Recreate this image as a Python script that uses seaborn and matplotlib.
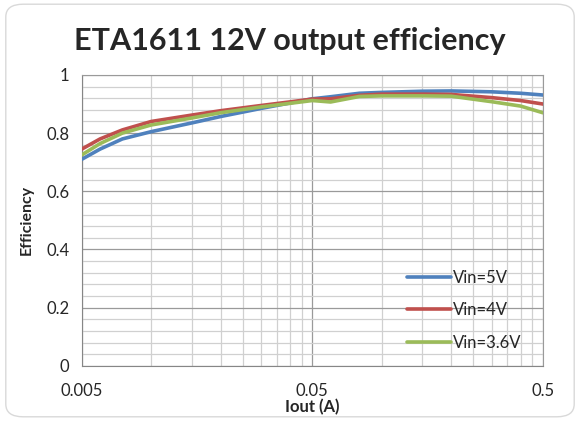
import numpy as np
import pandas as pd
import seaborn as sns
import matplotlib.pyplot as plt
from matplotlib.patches import FancyBboxPatch
from matplotlib.ticker import FixedLocator, NullFormatter

# load current (A)
iout = [0.005, 0.006, 0.0075, 0.01, 0.015, 0.02, 0.03, 0.05, 0.06, 0.08, 0.1, 0.15, 0.2, 0.3, 0.4, 0.5]

eff_5v = [0.710, 0.745, 0.780, 0.805, 0.835, 0.857, 0.885, 0.918, 0.925, 0.937, 0.940, 0.944, 0.945, 0.942, 0.937, 0.931]
eff_4v = [0.745, 0.780, 0.811, 0.840, 0.862, 0.877, 0.895, 0.917, 0.918, 0.930, 0.934, 0.934, 0.933, 0.922, 0.912, 0.900]
eff_36v = [0.725, 0.764, 0.800, 0.828, 0.852, 0.870, 0.890, 0.912, 0.907, 0.926, 0.928, 0.928, 0.927, 0.908, 0.893, 0.870]

series = ['Vin=5V', 'Vin=4V', 'Vin=3.6V']
colors = ['#4F81BD', '#C0504D', '#9BBB59']

df = pd.concat([
    pd.DataFrame({'Iout': iout, 'Efficiency': vals, 'Vin': name})
    for name, vals in zip(series, [eff_5v, eff_4v, eff_36v])
])

sns.set_style('white')
plt.rcParams['font.family'] = ['Lato', 'DejaVu Sans']

fig = plt.figure(figsize=(5.8, 4.21), dpi=100)
ax = fig.add_axes([0.141, 0.131, 0.795, 0.691])

# rounded chart border
fig.patches.append(FancyBboxPatch((0.01, 0.01), 0.98, 0.98, boxstyle='round,pad=0,rounding_size=0.03',
                                  transform=fig.transFigure, fill=False, edgecolor='#d9d9d9', lw=1))

sns.lineplot(data=df, x='Iout', y='Efficiency', hue='Vin', palette=colors, linewidth=2.6, ax=ax, zorder=3)

ax.set_xscale('log')
ax.set_xlim(0.005, 0.5)
ax.set_ylim(0, 1)
ax.xaxis.set_major_locator(FixedLocator([0.005, 0.05, 0.5]))
ax.set_xticklabels(['0.005', '0.05', '0.5'])
minor_x = [0.005 * k for k in range(2, 10)] + [0.05 * k for k in range(2, 10)]
ax.xaxis.set_minor_locator(FixedLocator(minor_x))
ax.xaxis.set_minor_formatter(NullFormatter())
ax.set_yticks([0, 0.2, 0.4, 0.6, 0.8, 1])
ax.set_yticklabels(['0', '0.2', '0.4', '0.6', '0.8', '1'])
ax.set_yticks(np.arange(0, 1.0001, 0.04), minor=True)

ax.grid(which='minor', color='#d0d0d0', lw=0.9)
ax.grid(which='major', color='#9a9a9a', lw=0.9)
ax.set_axisbelow(True)
for side in ['top', 'right']:
    ax.spines[side].set_color('#9a9a9a')
for side in ['left', 'bottom']:
    ax.spines[side].set_color('#868686')
ax.tick_params(axis='both', which='major', length=5, color='#868686', labelsize=12, pad=4)
ax.tick_params(axis='both', which='minor', length=0)
ax.tick_params(axis='x', pad=7)

ax.set_xlabel('Iout (A)', fontsize=12, fontweight='bold', labelpad=0)
ax.set_ylabel('Efficiency', fontsize=11.5, fontweight='bold', labelpad=9)
fig.suptitle('ETA1611 12V output efficiency', x=0.5, y=0.935, fontsize=22, fontweight='bold')

leg = ax.legend(loc='lower right', bbox_to_anchor=(0.985, 0.0), frameon=False, fontsize=12,
                handlelength=2.6, handletextpad=0.1, labelspacing=1.0)

fig.savefig('out.png', dpi=100)
